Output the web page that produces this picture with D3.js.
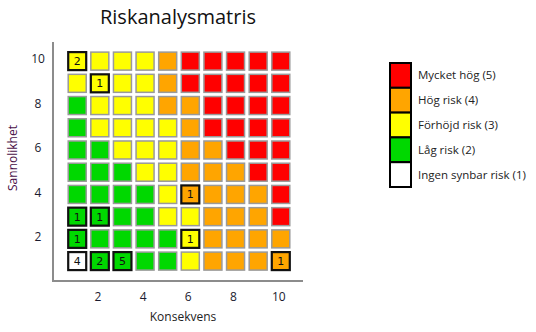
<!DOCTYPE html>
<html>
<head>
<meta charset="utf-8">
<script src="https://cdn.jsdelivr.net/npm/d3@7"></script>
<style>
  html, body { margin: 0; padding: 0; background: #fff; }
  svg { display: block; }
</style>
</head>
<body>
<svg id="chart" width="536" height="332"></svg>
<script>
// Risk level per cell, one row per probability value (10 at the top, 1 at the bottom),
// columns are consequence 1..10.
const probabilityRows = [10, 9, 8, 7, 6, 5, 4, 3, 2, 1];
const consequences = [1, 2, 3, 4, 5, 6, 7, 8, 9, 10];
const riskRows = [
  [3, 3, 3, 3, 4, 5, 5, 5, 5, 5],
  [3, 3, 3, 3, 4, 5, 5, 5, 5, 5],
  [2, 3, 3, 3, 4, 4, 5, 5, 5, 5],
  [2, 3, 3, 3, 3, 4, 5, 5, 5, 5],
  [2, 2, 3, 3, 3, 4, 4, 5, 5, 5],
  [2, 2, 2, 3, 3, 4, 4, 4, 5, 5],
  [2, 2, 2, 2, 3, 4, 4, 4, 4, 5],
  [2, 2, 2, 2, 3, 3, 4, 4, 4, 5],
  [2, 2, 2, 2, 2, 3, 4, 4, 4, 4],
  [1, 2, 2, 2, 2, 3, 4, 4, 4, 4]
];

// Number of identified risks in a cell
const countConsequence = [1, 2, 6, 1, 2, 1, 6, 1, 2, 3, 10];
const countProbability = [10, 9, 4, 3, 3, 2, 2, 1, 1, 1, 1];
const countValues      = [2, 1, 1, 1, 1, 1, 1, 4, 2, 5, 1];

// Legend
const legendLevels = [5, 4, 3, 2, 1];
const legendLabels = ["Mycket hög (5)", "Hög risk (4)", "Förhöjd risk (3)", "Låg risk (2)", "Ingen synbar risk (1)"];
const levelColors = { 1: "#ffffff", 2: "#00d800", 3: "#ffff00", 4: "#ffa500", 5: "#ff0000" };

const xTicks = [2, 4, 6, 8, 10];
const yTicks = [2, 4, 6, 8, 10];

const svg = d3.select("#chart");
const font = "'Open Sans', 'Noto Sans', sans-serif";

const x = d3.scaleLinear().domain([0.5, 10.5]).range([65.9, 292.1]);
const y = d3.scaleLinear().domain([0.5, 10.5]).range([272.2, 50.0]);
const cellSize = 18;

// Title
svg.append("text")
  .attr("x", 178).attr("y", 24)
  .attr("text-anchor", "middle")
  .attr("font-family", font).attr("font-size", 20)
  .attr("fill", "#111")
  .text("Riskanalysmatris");

// Cells
const cells = [];
probabilityRows.forEach((p, i) => {
  consequences.forEach((c, j) => {
    cells.push({ c, p, level: riskRows[i][j] });
  });
});
const countKey = (c, p) => c + "-" + p;
const counts = new Map();
countValues.forEach((n, i) => counts.set(countKey(countConsequence[i], countProbability[i]), n));

svg.append("g").selectAll("rect")
  .data(cells)
  .join("rect")
  .attr("x", d => x(d.c) - cellSize / 2)
  .attr("y", d => y(d.p) - cellSize / 2)
  .attr("width", cellSize).attr("height", cellSize)
  .attr("fill", d => levelColors[d.level])
  .attr("stroke", d => counts.has(countKey(d.c, d.p)) ? "#111" : "#9a9a9a")
  .attr("stroke-width", d => counts.has(countKey(d.c, d.p)) ? 2.2 : 1.5);

svg.append("g").selectAll("text")
  .data(countValues.map((n, i) => ({ n, c: countConsequence[i], p: countProbability[i] })))
  .join("text")
  .attr("x", d => x(d.c))
  .attr("y", d => y(d.p))
  .attr("dy", "0.36em")
  .attr("text-anchor", "middle")
  .attr("font-family", "'DejaVu Sans', sans-serif").attr("font-size", 11)
  .attr("fill", "#111")
  .text(d => d.n);

// Axes lines
const axisColor = "#8c8c8c";
svg.append("line").attr("x1", 53).attr("x2", 53).attr("y1", 42).attr("y2", 282)
  .attr("stroke", axisColor).attr("stroke-width", 2);
svg.append("line").attr("x1", 52).attr("x2", 303).attr("y1", 281).attr("y2", 281)
  .attr("stroke", axisColor).attr("stroke-width", 2);

// Tick labels
svg.append("g").selectAll("text")
  .data(xTicks)
  .join("text")
  .attr("x", d => x(d) - 2)
  .attr("y", 301)
  .attr("text-anchor", "middle")
  .attr("font-family", font).attr("font-size", 12)
  .attr("fill", "#1a1a2e")
  .text(d => d);

svg.append("g").selectAll("text")
  .data(yTicks)
  .join("text")
  .attr("x", 38)
  .attr("y", d => y(d) - 2)
  .attr("dy", "0.35em")
  .attr("text-anchor", "middle")
  .attr("font-family", font).attr("font-size", 12)
  .attr("fill", "#1a1a2e")
  .text(d => d);

// Axis titles
svg.append("text")
  .attr("x", 183).attr("y", 321)
  .attr("text-anchor", "middle")
  .attr("font-family", font).attr("font-size", 12)
  .attr("fill", "#222")
  .text("Konsekvens");

svg.append("text")
  .attr("transform", "translate(17,158) rotate(-90)")
  .attr("text-anchor", "middle")
  .attr("font-family", font).attr("font-size", 12)
  .attr("fill", "#4a1048")
  .text("Sannolikhet");

// Legend
const legend = svg.append("g").attr("transform", "translate(390,63)");
const legendStep = 24.8;
legend.selectAll("rect")
  .data(legendLevels)
  .join("rect")
  .attr("x", 0).attr("y", (d, i) => i * legendStep)
  .attr("width", 21).attr("height", legendStep)
  .attr("fill", d => levelColors[d])
  .attr("stroke", "#000").attr("stroke-width", 2);
legend.selectAll("text")
  .data(legendLabels)
  .join("text")
  .attr("x", 28).attr("y", (d, i) => i * legendStep + legendStep / 2)
  .attr("dy", "0.35em")
  .attr("font-family", font).attr("font-size", 11.5)
  .attr("fill", "#222")
  .text(d => d);
</script>
</body>
</html>
